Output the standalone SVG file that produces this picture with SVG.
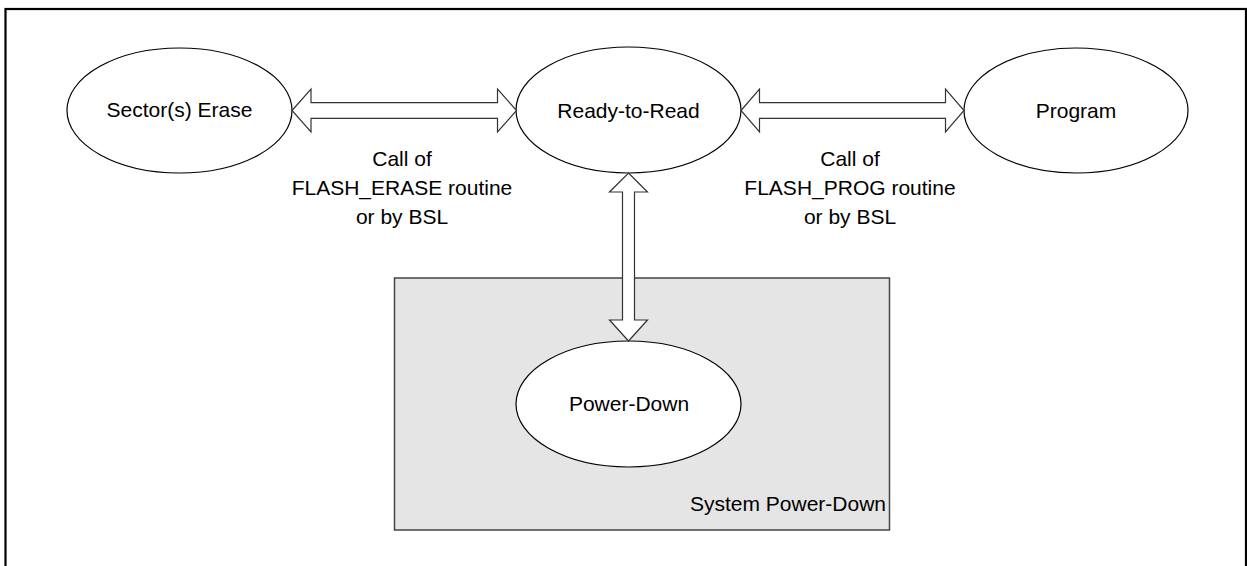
<svg xmlns="http://www.w3.org/2000/svg" width="1247" height="566" viewBox="0 0 1247 566">
<style>
  text { font-family: "Liberation Sans", Arial, sans-serif; font-size: 21px; fill: #000; }
  .node ellipse { fill: #fff; stroke: #000; stroke-width: 1.2; }
  .arrow { fill: #fff; stroke: #333; stroke-width: 1.2; stroke-linejoin: miter; }
  .mid { text-anchor: middle; }
</style>
<rect x="5.5" y="9" width="1240.5" height="570" fill="#fff" stroke="#000" stroke-width="2.2"/>
<g id="system-power-down">
  <rect x="394.5" y="278" width="495" height="252" fill="#e5e5e5" stroke="#444" stroke-width="1.5"/>
  <text x="886" y="511" text-anchor="end">System Power-Down</text>
</g>
<g id="sector-erase" class="node">
  <ellipse cx="179.5" cy="110.5" rx="112.5" ry="62.5"/>
  <text class="mid" x="179.5" y="117">Sector(s) Erase</text>
</g>
<g id="ready-to-read" class="node">
  <ellipse cx="628.5" cy="110" rx="112.5" ry="63"/>
  <text class="mid" x="628.5" y="118">Ready-to-Read</text>
</g>
<g id="program" class="node">
  <ellipse cx="1076" cy="110.5" rx="112" ry="62.5"/>
  <text class="mid" x="1076" y="118">Program</text>
</g>
<g id="power-down" class="node">
  <ellipse cx="628.5" cy="404" rx="112.5" ry="63"/>
  <text class="mid" x="629" y="411">Power-Down</text>
</g>
<g id="connectors">
  <polygon class="arrow" points="292,110.5 311,89 311,102.7 497.5,102.7 497.5,89 516.5,110.5 497.5,132 497.5,118.3 311,118.3 311,132"/>
  <polygon class="arrow" points="741,110.5 759.5,89 759.5,102.7 945.5,102.7 945.5,89 964,110.5 945.5,132 945.5,118.3 759.5,118.3 759.5,132"/>
  <polygon class="arrow" points="628.5,173 647.5,192 634.5,192 634.5,320 647.5,320 628.5,341 609.5,320 622.5,320 622.5,192 609.5,192"/>
</g>
<g id="erase-label">
  <text class="mid" x="402" y="166">Call of</text>
  <text class="mid" x="402" y="195">FLASH_ERASE routine</text>
  <text class="mid" x="402" y="224">or by BSL</text>
</g>
<g id="prog-label">
  <text class="mid" x="850" y="166">Call of</text>
  <text class="mid" x="850" y="195">FLASH_PROG routine</text>
  <text class="mid" x="850" y="224">or by BSL</text>
</g>
</svg>
